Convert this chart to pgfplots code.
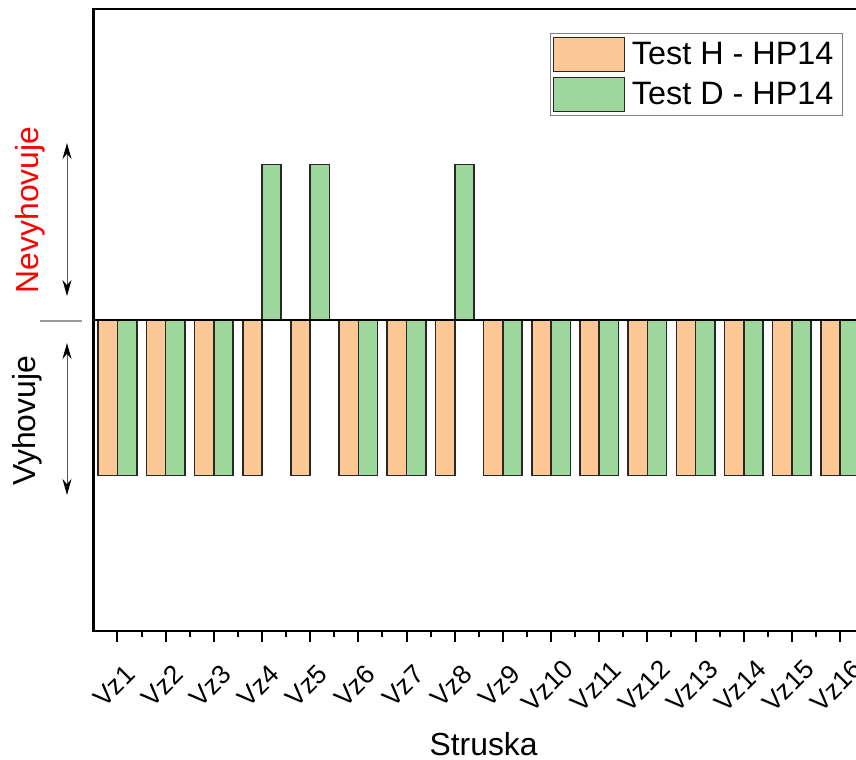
\documentclass[border=0pt]{standalone}
\usepackage{pgfplots}
\pgfplotsset{compat=1.18}
\usepackage{fontspec}
\setmainfont{Liberation Sans}
\usetikzlibrary{arrows.meta}
\definecolor{peach}{RGB}{252,200,150}
\definecolor{mint}{RGB}{158,215,155}
\definecolor{edge}{RGB}{40,40,40}
\begin{document}
\begin{tikzpicture}[x=1bp,y=1bp]
\clip (0,0) rectangle (856,760);
\useasboundingbox (0,0) rectangle (856,760);
\begin{axis}[
  at={(93.4bp,129bp)}, anchor=south west,
  scale only axis, width=780.4bp, height=622bp,
  xmin=0.5, xmax=16.7, ymin=-2, ymax=2,
  axis line style={line width=2.2bp, black},
  xtick={1,...,16},
  xticklabels={Vz1,Vz2,Vz3,Vz4,Vz5,Vz6,Vz7,Vz8,Vz9,Vz10,Vz11,Vz12,Vz13,Vz14,Vz15,Vz16},
  minor x tick num=1,
  xtick pos=bottom,
  tick align=outside,
  major tick length=11bp, minor tick length=6bp,
  every tick/.style={line width=2bp, black},
  every minor tick/.style={line width=2bp, black},
  ytick=\empty,
  xticklabel style={font=\fontsize{26.5}{26.5}\selectfont, anchor=center, xshift=-3.5bp, yshift=-44bp, rotate=45},
  xlabel={Struska},
  xlabel style={font=\fontsize{32}{32}\selectfont, at={(rel axis cs:0.5,0)}, anchor=base, yshift=-124bp},
  bar width=0.4,
  legend cell align=left,
  legend style={at={(rel axis cs:0.5853,0.961)}, anchor=north west, draw=gray, line width=1bp,
    font=\fontsize{32.5}{32.5}\selectfont, inner xsep=2bp, inner ysep=3bp, row sep=5bp,
    nodes={inner sep=1.5bp, inner xsep=7bp}},
  legend image code/.code={\draw[#1, line width=1.2bp] (0bp,-17bp) rectangle (71bp,17bp);},
]
\addplot[ybar, bar shift=-0.2, fill=peach, draw=edge, line width=1.6bp] coordinates {
 (1,-1) (2,-1) (3,-1) (4,-1) (5,-1) (6,-1) (7,-1) (8,-1)
 (9,-1) (10,-1) (11,-1) (12,-1) (13,-1) (14,-1) (15,-1) (16,-1)};
\addlegendentry{Test H - HP14}
\addplot[ybar, bar shift=0.2, fill=mint, draw=edge, line width=1.6bp] coordinates {
 (1,-1) (2,-1) (3,-1) (4,1) (5,1) (6,-1) (7,-1) (8,1)
 (9,-1) (10,-1) (11,-1) (12,-1) (13,-1) (14,-1) (15,-1) (16,-1)};
\addlegendentry{Test D - HP14}
\draw[black, line width=2.2bp] (axis cs:0.5,0) -- (axis cs:16.7,0);
\end{axis}
\node[rotate=90, text=red, inner sep=0, font=\fontsize{32}{32}\selectfont] at (30.5,550) {Nevyhovuje};
\node[rotate=90, text=black, inner sep=0, font=\fontsize{32}{32}\selectfont] at (27.5,339) {Vyhovuje};
\draw[gray!70!black, line width=1bp, {Stealth[length=16bp,width=9bp,color=black]}-{Stealth[length=16bp,width=9bp,color=black]}] (67,617) -- (67,464);
\draw[gray!70!black, line width=1bp, {Stealth[length=16bp,width=9bp,color=black]}-{Stealth[length=16bp,width=9bp,color=black]}] (67,417) -- (67,265);
\draw[gray!80, line width=2bp] (40,439) -- (82,439);
\end{tikzpicture}
\end{document}
